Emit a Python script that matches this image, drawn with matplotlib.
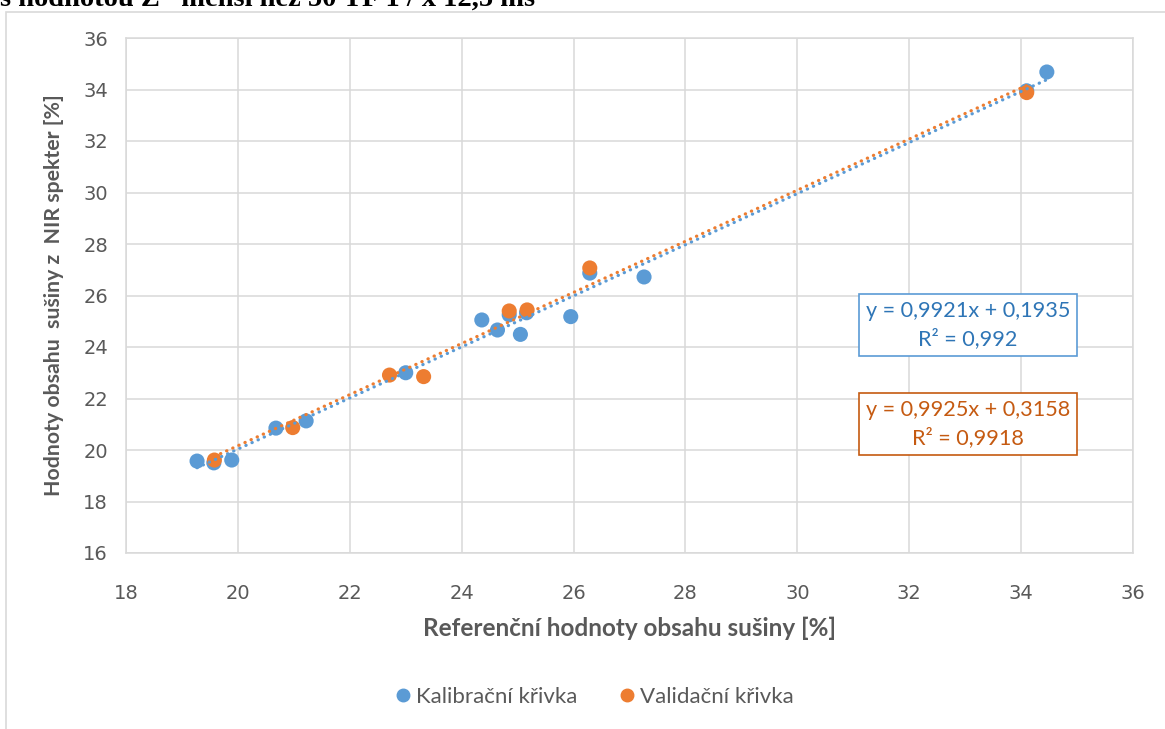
import matplotlib
matplotlib.use("Agg")
import matplotlib.pyplot as plt
from matplotlib.patches import Rectangle
from matplotlib.lines import Line2D

# Calibration set (reference vs. NIR prediction, % dry matter)
cal_ref = [19.27, 19.57, 19.89, 20.68, 21.22, 23.00, 24.36, 24.64, 24.85, 25.05,
           25.16, 25.95, 26.29, 27.26, 34.10, 34.46]
cal_nir = [19.57, 19.50, 19.61, 20.85, 21.13, 23.00, 25.05, 24.66, 25.25, 24.49,
           25.33, 25.18, 26.87, 26.72, 33.95, 34.68]

# Validation set
val_ref = [19.58, 20.98, 22.71, 23.32, 24.85, 25.17, 26.29, 34.10]
val_nir = [19.61, 20.87, 22.91, 22.85, 25.40, 25.44, 27.07, 33.88]

# Linear trendlines
cal_slope, cal_icpt, cal_r2 = 0.9921, 0.1935, "0,992"
val_slope, val_icpt, val_r2 = 0.9925, 0.3158, "0,9918"

x_ticks = list(range(18, 37, 2))
y_ticks = list(range(16, 37, 2))

series_names = ["Kalibrační křivka", "Validační křivka"]
x_label = "Referenční hodnoty obsahu sušiny [%]"
y_label = "Hodnoty obsahu  sušiny z  NIR spekter [%]"
heading = "s hodnotou Z\u201d menší než 50 TF 1 / x 12,5 ms"

BLUE = "#5B9BD5"
ORANGE = "#ED7D31"
BLUE_TXT = "#2E75B6"
ORANGE_TXT = "#C55A11"
GRID = "#D9D9D9"
TXT = "#595959"
UI_FONT = ["Lato", "DejaVu Sans"]

W, H = 1165, 729
fig = plt.figure(figsize=(W / 100, H / 100), dpi=100)
fig.patch.set_facecolor("white")

# chart frame
fig.add_artist(Rectangle((6 / W, -0.05), (W + 20) / W, 1.05 - 12 / H,
                         transform=fig.transFigure, fill=False,
                         edgecolor=GRID, lw=1.2))

# document line running into the top edge of the page
fig.text(0.0, 1 - 6 / H, heading, family="Liberation Serif", fontweight="bold",
         fontsize=20.5, color="black", ha="left", va="baseline")

left, right, top, bottom = 126 / W, 1133 / W, 38 / H, 553 / H
ax = fig.add_axes([left, 1 - bottom, right - left, bottom - top])

ax.set_xlim(18, 36)
ax.set_ylim(16, 36)
ax.set_xticks(x_ticks)
ax.set_yticks(y_ticks)
ax.grid(True, color=GRID, lw=1.1)
ax.set_axisbelow(True)
for s in ax.spines.values():
    s.set_color(GRID)
    s.set_linewidth(1.1)
ax.tick_params(length=0, colors=TXT, labelsize=14)
ax.tick_params(axis="x", pad=22)
ax.tick_params(axis="y", pad=13)
for lab in ax.get_xticklabels() + ax.get_yticklabels():
    lab.set_family("DejaVu Sans")

ax.scatter(cal_ref, cal_nir, s=118, color=BLUE, edgecolors="none", zorder=3)
ax.scatter(val_ref, val_nir, s=118, color=ORANGE, edgecolors="none", zorder=3)

dot = dict(lw=2.3, linestyle=(0, (0.1, 2.0)), dash_capstyle="round", zorder=4)
cx = [min(cal_ref), max(cal_ref)]
ax.plot(cx, [cal_slope * v + cal_icpt for v in cx], color=BLUE, **dot)
vx = [min(val_ref), max(val_ref)]
ax.plot(vx, [val_slope * v + val_icpt for v in vx], color=ORANGE, **dot)

ax.set_xlabel(x_label, family=UI_FONT, fontweight="bold", fontsize=17.5,
              color=TXT, labelpad=10)
ax.set_ylabel(y_label, family=UI_FONT, fontweight="bold", fontsize=15.3,
              color=TXT, labelpad=14)


def eq_box(ax, x, y, slope, icpt, r2, color, edge):
    txt = f"y = {slope:.4f}x + {icpt:.4f}".replace(".", ",") + f"\nR² = {r2}"
    ax.text(x, y, txt, transform=fig.transFigure, ha="center", va="center",
            family=UI_FONT, fontsize=15.6, color=color, linespacing=1.4,
            bbox=dict(boxstyle="square,pad=0.32", fc="white", ec=edge, lw=1.2),
            zorder=6)


eq_box(ax, 968 / W, 1 - 325 / H, cal_slope, cal_icpt, cal_r2, BLUE_TXT, BLUE)
eq_box(ax, 968 / W, 1 - 424 / H, val_slope, val_icpt, val_r2, ORANGE_TXT, ORANGE_TXT)

handles = [Line2D([], [], marker="o", ls="none", color=BLUE, markersize=9),
           Line2D([], [], marker="o", ls="none", color=ORANGE, markersize=9)]
leg = fig.legend(handles, series_names, loc="center", ncol=2,
                 bbox_to_anchor=(595 / W, 1 - 697 / H), frameon=False,
                 handlelength=0.6, handletextpad=0.3, columnspacing=1.9,
                 prop=dict(family=UI_FONT, size=16))
for t in leg.get_texts():
    t.set_color(TXT)

fig.savefig("out.png", dpi=100)
